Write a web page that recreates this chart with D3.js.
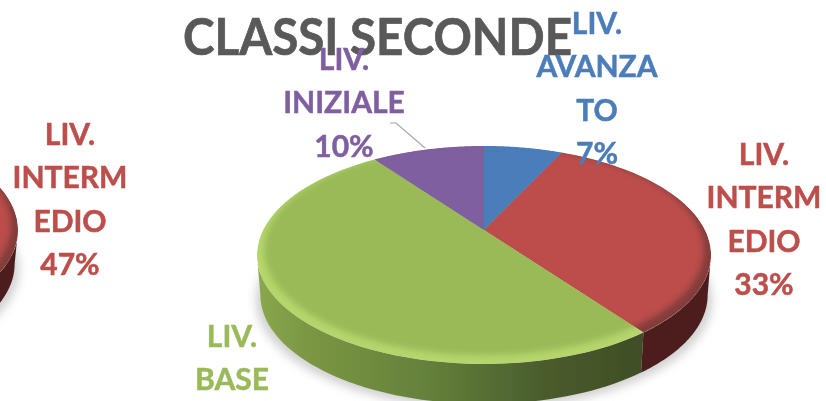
<!DOCTYPE html>
<html><head><meta charset="utf-8">
<script src="https://cdn.jsdelivr.net/npm/d3@7/dist/d3.min.js"></script>
<style>html,body{margin:0;padding:0;background:#fff;overflow:hidden}svg{display:block}text{font-family:Lato,"Open Sans",sans-serif;font-weight:700}</style>
</head><body><svg id="c" width="826" height="401"></svg>
<script>
const title = "CLASSI SECONDE";
const categories = ["LIV. AVANZATO", "LIV. INTERMEDIO", "LIV. BASE", "LIV. INIZIALE"];
const values = [7, 33, 50, 10];
const labelLines = [["LIV.", "AVANZA", "TO"], ["LIV.", "INTERM", "EDIO"], ["LIV.", "BASE"], ["LIV.", "INIZIALE"]];
const colors = ["#4b7dba", "#bc4e4b", "#9aba59", "#7f5f9f"];
const rimColors = ["#4b7dba", "#843c3a", "#b6d66c", "#7f5f9f"];
const prevValues = [47, 53];
const prevLabelLines = ["LIV.", "INTERM", "EDIO"];

const svg = d3.select("#c");
const defs = svg.append("defs");
defs.append("filter").attr("id","soft").attr("x","-10%").attr("y","-10%").attr("width","120%").attr("height","120%")
  .append("feGaussianBlur").attr("stdDeviation",3.2);
defs.append("filter").attr("id","shadow").attr("x","-10%").attr("y","-20%").attr("width","120%").attr("height","140%")
  .append("feGaussianBlur").attr("stdDeviation",5);
defs.append("filter").attr("id","fine").attr("x","-5%").attr("y","-5%").attr("width","110%").attr("height","110%")
  .append("feGaussianBlur").attr("stdDeviation",.45);
const gg = defs.append("linearGradient").attr("id","gSide").attr("gradientUnits","userSpaceOnUse")
  .attr("x1",257).attr("x2",640).attr("y1",0).attr("y2",0);
[[0,"#8aa84c"],[.12,"#7c9844"],[.45,"#64803a"],[.75,"#4a5c2c"],[1,"#3f4e25"]].forEach(s=>gg.append("stop").attr("offset",s[0]).attr("stop-color",s[1]));

const K = .229, A = 221, B = 103.3, DEPTH = 40, SHRINK = .985;
const VIS0 = Math.acos(-K), VIS1 = 2*Math.PI - VIS0;
function projector(cx, cy){
  return (t, r=1, dy=0, sx=1) => {
    const u = r*Math.sin(t), v = -r*Math.cos(t), w = 1 - K*v;
    return [cx + sx*A*u/w, cy + B*v/w + dy];
  };
}
const samples = (a,b,n=60) => d3.range(n+1).map(i => a+(b-a)*i/n);
const line = d3.line();

function drawPie(vals, startAngle, cx, cy, fills, rims, sideFill, id, depth){
  const P = projector(cx, cy);
  const arcs = d3.pie().sort(null).startAngle(startAngle).endAngle(startAngle+2*Math.PI)(vals);
  const shadow = svg.append("g");
  shadow.append("path").attr("d",line(samples(0,2*Math.PI,120).map(t=>P(t,1,depth+5,1.005)))+"Z")
    .attr("fill","#bdbdbd").attr("opacity",.7).attr("filter","url(#shadow)");
  const g = svg.append("g").attr("filter","url(#fine)");
  arcs.forEach((d,i)=>{
    [[d.startAngle,d.endAngle],[d.startAngle-2*Math.PI,d.endAngle-2*Math.PI]].forEach(([s,e])=>{
      const a=Math.max(s,VIS0), b=Math.min(e,VIS1);
      if(a>=b) return;
      const top=samples(a,b).map(t=>P(t));
      const bot=samples(b,a).map(t=>P(t,1,depth,SHRINK));
      g.append("path").attr("d",line(top.concat(bot))+"Z").attr("fill",sideFill[i]);
    });
  });
  arcs.forEach((d,i)=>{
    const pts=[P(0,0)].concat(samples(d.startAngle,d.endAngle).map(t=>P(t)));
    const path=line(pts)+"Z";
    const cid=id+"clip"+i;
    defs.append("clipPath").attr("id",cid).append("path").attr("d",path);
    const f=g.append("g").attr("clip-path",`url(#${cid})`);
    f.append("path").attr("d",path).attr("fill",rims[i]);
    f.append("path").attr("d",line(samples(0,2*Math.PI,120).map(t=>P(t,.97,-3.5)))+"Z")
      .attr("fill",fills[i]).attr("filter","url(#soft)");
  });
}
drawPie(prevValues, 0.17, -209, 205, [colors[1],colors[1]], [rimColors[1],rimColors[1]], ["#4e1f1e","#4e1f1e"], "p", 34);
drawPie(values, 0, 484, 230, colors, rimColors, ["#2c4a70","#4e1f1e","url(#gSide)","#4a3760"], "m", 40);

svg.append("path").attr("d","M390,123H396L425,148").attr("fill","none").attr("stroke","#a6a6a6").attr("stroke-width",1.2);

svg.append("text").attr("x",183).attr("y",55).attr("font-size",52).attr("fill","#595959")
  .attr("stroke","#595959").attr("stroke-width",.7)
  .attr("textLength",389).attr("lengthAdjust","spacingAndGlyphs").text(title);

const fmt = v => v + "%";
const LH = 43.3;
const anchors = [[597,34],[764,165],[232,347],[344,70]];
function label(lines,x,y,fill,vText){
  const t=svg.append("text").attr("text-anchor","middle").attr("font-size",30).attr("fill",fill)
    .attr("stroke",fill).attr("stroke-width",.5);
  lines.concat([vText]).forEach((l,i)=>t.append("tspan").attr("x",x).attr("y",y+i*LH).text(l));
}
categories.forEach((c,i)=>label(labelLines[i],anchors[i][0],anchors[i][1],colors[i],fmt(values[i])));
label(prevLabelLines,70,145,colors[1],fmt(prevValues[0]));
</script></body></html>
